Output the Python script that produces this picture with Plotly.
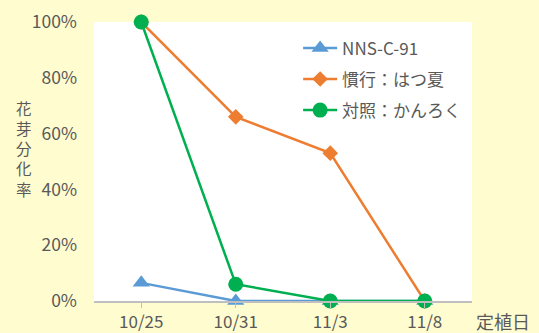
import plotly.graph_objects as go

dates = ["10/25", "10/31", "11/3", "11/8"]
nns = [0.065, 0.0, 0.0, 0.0]
kanko = [1.0, 0.66, 0.53, 0.0]
taisho = [1.0, 0.06, 0.0, 0.0]
y_ticks = [0, 0.2, 0.4, 0.6, 0.8, 1.0]
y_tick_text = ["0%", "20%", "40%", "60%", "80%", "100%"]

FONT = "Noto Sans CJK JP"
TXT = "#595959"

fig = go.Figure()
fig.add_trace(go.Scatter(x=dates, y=nns, name="NNS-C-91", mode="lines+markers",
                         line=dict(color="#5B9BD5", width=2.5),
                         marker=dict(symbol="triangle-up", size=15, color="#5B9BD5"),
                         cliponaxis=False, legendgroup="a"))
fig.add_trace(go.Scatter(x=dates, y=kanko, name="慣行：はつ夏", mode="lines+markers",
                         line=dict(color="#ED7D31", width=2.5),
                         marker=dict(symbol="diamond", size=12, color="#ED7D31"),
                         cliponaxis=False, legendgroup="b"))
fig.add_trace(go.Scatter(x=dates, y=taisho, name="対照：かんろく", mode="lines+markers",
                         line=dict(color="#00B050", width=2.5),
                         marker=dict(symbol="circle", size=15, color="#00B050"),
                         cliponaxis=False, legendgroup="c"))

fig.update_layout(
    width=539, height=333,
    margin=dict(l=94, r=67, t=22, b=32),
    paper_bgcolor="#FFFCCF",
    plot_bgcolor="#FFFFFF",
    font=dict(family=FONT, size=15, color=TXT),
    showlegend=True,
    legend=dict(x=0.54, y=0.97, xanchor="left", yanchor="top",
                bgcolor="rgba(255,255,255,0)", font=dict(size=17, color=TXT),
                tracegroupgap=6, itemwidth=34),
    xaxis=dict(type="category", range=[-0.5, 3.5], showgrid=False,
               showline=True, linecolor="#BFBFBF", linewidth=1.5,
               ticks="outside", ticklen=5, tickcolor="#BFBFBF",
               ticklabelstandoff=0, tickfont=dict(size=17, color=TXT),
               automargin=False),
    yaxis=dict(range=[0, 1], tickvals=y_ticks, ticktext=y_tick_text,
               showgrid=False, showline=False, zeroline=False, ticks="",
               ticklabelstandoff=16, tickfont=dict(size=17.5, color=TXT),
               automargin=False),
    annotations=[
        dict(text="花<br>芽<br>分<br>化<br>率", xref="paper", yref="paper",
             x=-0.185, y=0.548, xanchor="center", yanchor="middle",
             showarrow=False, font=dict(size=15.5, color=TXT)),
        dict(text="定植日", xref="paper", yref="paper",
             x=1.006, y=-0.072, xanchor="left", yanchor="middle",
             showarrow=False, font=dict(size=18, color=TXT)),
    ],
)

fig.write_html("out.html")
